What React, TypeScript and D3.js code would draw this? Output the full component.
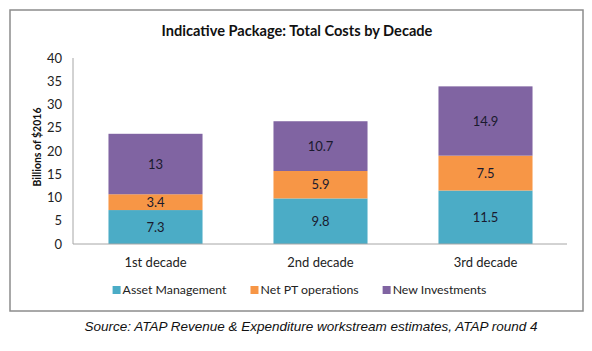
import * as d3 from 'd3';
import { useEffect, useRef } from 'react';

const decades = ['1st decade', '2nd decade', '3rd decade'];
const seriesNames = ['Asset Management', 'Net PT operations', 'New Investments'];
const assetManagement = [7.3, 9.8, 11.5];
const netPtOperations = [3.4, 5.9, 7.5];
const newInvestments = [13, 10.7, 14.9];
const yTicks = [0, 5, 10, 15, 20, 25, 30, 35, 40];
const colors = ['#4BACC6', '#F79646', '#8064A2'];

const FONT = 'Lato, "Open Sans", sans-serif';

export default function App() {
  const svgRef = useRef<SVGSVGElement>(null);

  useEffect(() => {
    const svgElement = svgRef.current;
    if (!svgElement) return;
    const svg = d3.select(svgElement);
    svg.selectAll('*').remove();

    // chart frame
    svg
      .append('rect')
      .attr('x', 10)
      .attr('y', 10)
      .attr('width', 573)
      .attr('height', 301)
      .attr('fill', '#fff')
      .attr('stroke', '#8c8c8c')
      .attr('stroke-width', 1.5);

    svg
      .append('text')
      .attr('x', 297)
      .attr('y', 36)
      .attr('text-anchor', 'middle')
      .attr('font-family', FONT)
      .attr('font-weight', 'bold')
      .attr('font-size', 14.6)
      .attr('fill', '#111')
      .text('Indicative Package: Total Costs by Decade');

    const data = decades.map((d, i) => ({
      decade: d,
      'Asset Management': assetManagement[i],
      'Net PT operations': netPtOperations[i],
      'New Investments': newInvestments[i],
    }));

    const x = d3
      .scaleBand()
      .domain(decades)
      .range([73, 568])
      .paddingInner(0.43)
      .paddingOuter(0.215);
    const y = d3.scaleLinear().domain([0, 40]).range([244, 58]);

    const layers = d3.stack<any>().keys(seriesNames)(data);

    const g = svg.append('g');
    layers.forEach((layer, li) => {
      g.selectAll(`rect.s${li}`)
        .data(layer)
        .join('rect')
        .attr('class', `s${li}`)
        .attr('x', (d) => x(d.data.decade)!)
        .attr('width', x.bandwidth())
        .attr('y', (d) => y(d[1]))
        .attr('height', (d) => y(d[0]) - y(d[1]))
        .attr('fill', colors[li]);

      g.selectAll(`text.l${li}`)
        .data(layer)
        .join('text')
        .attr('class', `l${li}`)
        .attr('x', (d) => x(d.data.decade)! + x.bandwidth() / 2)
        .attr('y', (d) => (y(d[0]) + y(d[1])) / 2)
        .attr('dy', '0.35em')
        .attr('text-anchor', 'middle')
        .attr('font-family', FONT)
        .attr('font-size', 13)
        .attr('fill', '#1a1a2e')
        .text((d) => String(+(d[1] - d[0]).toFixed(1)));
    });

    // axis lines
    svg
      .append('line')
      .attr('x1', 73)
      .attr('x2', 73)
      .attr('y1', y(40))
      .attr('y2', y(0))
      .attr('stroke', '#a6a6a6');
    svg
      .append('line')
      .attr('x1', 73)
      .attr('x2', 567)
      .attr('y1', y(0))
      .attr('y2', y(0))
      .attr('stroke', '#a6a6a6');

    svg
      .selectAll('text.ytick')
      .data(yTicks)
      .join('text')
      .attr('class', 'ytick')
      .attr('x', 62)
      .attr('y', (d) => y(d))
      .attr('dy', '0.35em')
      .attr('text-anchor', 'end')
      .attr('font-family', FONT)
      .attr('font-size', 13)
      .attr('fill', '#222')
      .text((d) => d);

    svg
      .selectAll('text.xtick')
      .data(decades)
      .join('text')
      .attr('class', 'xtick')
      .attr('x', (d) => x(d)! + x.bandwidth() / 2)
      .attr('y', 262)
      .attr('dy', '0.35em')
      .attr('text-anchor', 'middle')
      .attr('font-family', FONT)
      .attr('font-size', 13)
      .attr('fill', '#222')
      .text((d) => d);

    svg
      .append('text')
      .attr('transform', 'translate(37,147) rotate(-90)')
      .attr('text-anchor', 'middle')
      .attr('dy', '0.35em')
      .attr('font-family', FONT)
      .attr('font-weight', 'bold')
      .attr('font-size', 10.5)
      .attr('fill', '#111')
      .text('Billions of $2016');

    // legend
    const legend = svg.append('g');
    let lx = 0;
    seriesNames.forEach((name, i) => {
      const item = legend.append('g').attr('transform', `translate(${lx},0)`);
      item
        .append('rect')
        .attr('x', 0)
        .attr('y', -4)
        .attr('width', 8)
        .attr('height', 8)
        .attr('fill', colors[i]);
      const t = item
        .append('text')
        .attr('x', 10)
        .attr('y', 0)
        .attr('dy', '0.35em')
        .attr('font-family', FONT)
        .attr('font-size', 12.3)
        .attr('fill', '#222')
        .text(name);
      const w = (t.node() as SVGTextElement).getComputedTextLength();
      lx += 10 + w + 24;
    });
    const legendWidth = lx - 24;
    legend.attr('transform', `translate(${299.5 - legendWidth / 2},290)`);

    svg
      .append('text')
      .attr('x', 311)
      .attr('y', 326)
      .attr('dy', '0.35em')
      .attr('text-anchor', 'middle')
      .attr('font-family', 'Arial, "Liberation Sans", sans-serif')
      .attr('font-style', 'italic')
      .attr('font-size', 13.5)
      .attr('fill', '#111')
      .text('Source: ATAP Revenue & Expenditure workstream estimates, ATAP round 4');
  }, []);

  return (
    <svg
      ref={svgRef}
      width={592}
      height={351}
      style={{ position: 'absolute', left: 0, top: 0, background: '#fff' }}
    />
  );
}
